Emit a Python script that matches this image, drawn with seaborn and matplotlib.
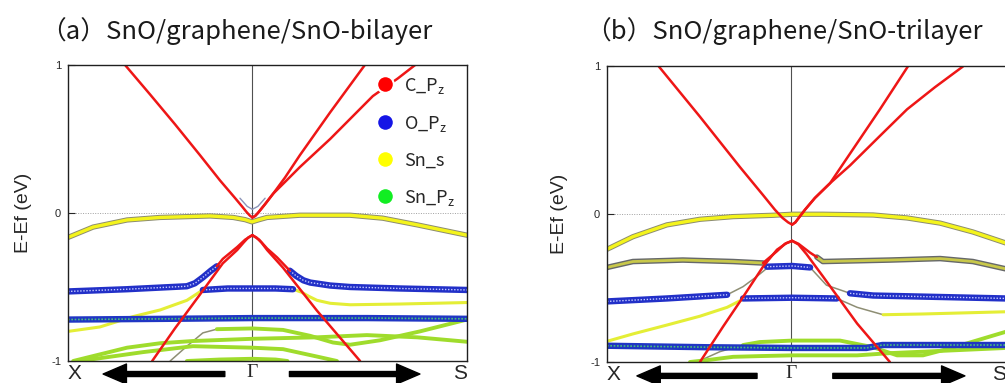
import matplotlib
matplotlib.use("Agg")
import matplotlib.pyplot as plt
from matplotlib.lines import Line2D
import pandas as pd
import seaborn as sns

# ---- k-path and axis labels ----
K_TICKS = [0.0, 0.462, 1.0]
K_LABELS = ["X", "Γ", "S"]
E_TICKS = [-1, 0, 1]
TITLE_A = "（a）SnO/graphene/SnO-bilayer"
TITLE_B = "（b）SnO/graphene/SnO-trilayer"
YLABEL = "E-Ef (eV)"

LEGEND_NAMES = ["C_P$_\\mathregular{z}$", "O_P$_\\mathregular{z}$", "Sn_s", "Sn_P$_\\mathregular{z}$"]
LEGEND_COLORS = ["#ff0000", "#1515e6", "#ffff00", "#11ee22"]

# ---- (a) bilayer bands: (k, E) ----
a_cone_up_left = ([.143, .206, .268, .331, .381, .419, .436, .448, .456, .462],
                  [1.0, .80, .60, .39, .22, .10, .045, .005, -.018, -.03])
a_cone_up_r1 = ([.462, .469, .476, .494, .514, .544, .581, .657, .744],
                 [-.03, -.02, .0, .06, .13, .24, .39, .68, 1.0])
a_cone_up_r2 = ([.462, .469, .476, .494, .514, .544, .581, .657, .764, .827, .870],
                 [-.03, -.02, .0, .06, .13, .21, .31, .50, .79, .91, 1.0])
a_cone_faint = ([.431, .449, .462, .476, .494], [.10, .045, .025, .045, .10])
a_cone_dn_left = ([.462, .452, .440, .424, .388, .331, .268, .211],
                  [-.15, -.165, -.20, -.25, -.34, -.55, -.78, -1.0])
a_cone_dn_right = ([.462, .472, .485, .499, .539, .624, .732],
                   [-.15, -.165, -.20, -.25, -.37, -.66, -1.0])
a_sn_top = ([0, .063, .148, .231, .356, .414, .444, .461, .479, .499, .581, .707, .789, .875, 1.0],
            [-.165, -.095, -.047, -.03, -.02, -.03, -.045, -.06, -.045, -.03, -.015, -.015, -.035, -.08, -.15])
a_o1_left = ([0, .148, .298, .318, .338, .358, .373], [-.53, -.515, -.495, -.475, -.435, -.39, -.36])
a_o1_left_c = ([.373, .388, .424, .444, .462], [-.36, -.31, -.23, -.18, -.15])
a_o1_right_c = ([.462, .479, .499, .524, .556], [-.15, -.18, -.24, -.30, -.39])
a_o1_right = ([.556, .572, .590, .607, .657, .707, .832, 1.0],
              [-.39, -.425, -.455, -.47, -.49, -.50, -.51, -.52])
a_s1_left = ([0, .080, .163, .231, .298, .338], [-.80, -.77, -.70, -.655, -.59, -.52])
a_o2 = ([.338, .40, .462, .52, .564], [-.52, -.51, -.51, -.51, -.515])
a_s1_right = ([.564, .585, .605, .624, .657, .707, .832, 1.0],
              [-.515, -.535, -.565, -.59, -.61, -.62, -.615, -.605])
a_o3 = ([0, .25, .462, .75, 1.0], [-.72, -.715, -.71, -.71, -.715])
a_p1_tail = ([.256, .298, .338, .373], [-1.0, -.90, -.81, -.785])
a_p1 = ([.373, .462, .539, .607, .664, .707, .782, .882, 1.0],
        [-.785, -.78, -.79, -.83, -.875, -.89, -.86, -.80, -.72])
a_p2 = ([.013, .148, .231, .313, .462, .624, .749, .875, 1.0],
        [-1.0, -.91, -.88, -.865, -.85, -.84, -.825, -.84, -.87])
a_p3 = ([.030, .188, .313, .462, .539, .624, .674], [-1.0, -.94, -.90, -.91, -.92, -.97, -1.0])
a_p4 = ([.298, .38, .462, .52, .55], [-1.0, -.99, -.985, -.99, -1.0])

# ---- (b) trilayer bands: (k, E) ----
b_cone_up_left = ([.130, .233, .333, .391, .421, .440, .454, .464],
                  [1.0, .66, .32, .13, .03, -.025, -.055, -.07])
b_cone_up_r1 = ([.464, .472, .479, .496, .521, .559, .609, .684, .754],
                [-.07, -.055, -.03, .03, .11, .21, .41, .71, 1.0])
b_cone_up_r2 = ([.464, .472, .479, .496, .521, .559, .609, .684, .752, .822, .892],
                [-.07, -.055, -.03, .03, .11, .21, .33, .53, .71, .86, 1.0])
b_cone_dn_left = ([.464, .450, .426, .391, .341, .291, .233], [-.18, -.195, -.24, -.355, -.56, -.76, -1.0])
b_cone_dn_right = ([.464, .48, .50, .541, .627, .709], [-.18, -.205, -.27, -.42, -.74, -1.0])
b_sn_top = ([0, .065, .150, .233, .316, .416, .464, .541, .667, .752, .835, .917, 1.0],
            [-.237, -.152, -.072, -.034, -.016, -.007, 0, 0, -.005, -.025, -.06, -.12, -.195])
b_m1_left = ([0, .065, .190, .316, .391], [-.36, -.32, -.31, -.32, -.33])
b_m1_left_c = ([.391, .426, .446, .464], [-.33, -.25, -.20, -.18])
b_m1_right_c = ([.464, .48, .509, .526], [-.18, -.20, -.26, -.29])
b_m1_right = ([.526, .541, .709, .835, .917, 1.0], [-.29, -.32, -.31, -.30, -.32, -.37])
b_o1_left = ([0, .150, .301], [-.59, -.57, -.545])
b_o1_left_mix = ([.301, .341, .376, .401], [-.545, -.49, -.42, -.365])
b_o1 = ([.401, .464, .509], [-.355, -.35, -.36])
b_o1_right_mix = ([.509, .55, .609], [-.36, -.48, -.535])
b_o1_right = ([.609, .667, .835, 1.0], [-.535, -.55, -.56, -.57])
b_s1_left = ([0, .065, .150, .233, .301, .341], [-.86, -.81, -.75, -.69, -.63, -.575])
b_o2 = ([.341, .464, .576], [-.57, -.565, -.57])
b_s1_right_mix = ([.576, .627, .692], [-.57, -.63, -.68])
b_s1_right = ([.692, .792, 1.0], [-.68, -.675, -.66])
b_o3 = ([0, .25, .464, .65, .69, .75, 1.0], [-.89, -.90, -.905, -.905, -.885, -.885, -.885])
b_p1_tail = ([.226, .246, .283, .341], [-1.0, -.975, -.93, -.885])
b_p1 = ([.341, .383, .464, .584, .667, .727, .792, .87, 1.0],
        [-.885, -.865, -.855, -.855, -.90, -.955, -.955, -.90, -.795])
b_p2 = ([.208, .258, .316, .383, .464, .627, .709, .835, 1.0],
        [-1.0, -.985, -.965, -.96, -.955, -.955, -.94, -.925, -.905])

PANEL_A = [
    ("trans", a_p1_tail), ("snp", a_p1), ("snp", a_p2), ("snp", a_p3), ("snp", a_p4),
    ("sns", a_s1_left), ("sns", a_s1_right), ("sntop", a_sn_top),
    ("teal", a_o3), ("o", a_o1_left), ("o", a_o1_right), ("o", a_o2),
    ("faint", a_cone_faint),
    ("c", a_o1_left_c), ("c", a_o1_right_c), ("c", a_cone_up_left), ("c", a_cone_up_r1),
    ("c", a_cone_up_r2), ("c", a_cone_dn_left), ("c", a_cone_dn_right),
]
PANEL_B = [
    ("trans", b_p1_tail), ("snp", b_p1), ("snp", b_p2),
    ("sns", b_s1_left), ("sns", b_s1_right), ("trans", b_s1_right_mix), ("trans", b_o1_left_mix),
    ("trans", b_o1_right_mix), ("sntop", b_sn_top), ("mix", b_m1_left), ("mix", b_m1_right),
    ("teal", b_o3), ("o", b_o1_left), ("o", b_o1), ("o", b_o1_right), ("o", b_o2),
    ("c", b_m1_left_c), ("c", b_m1_right_c), ("c", b_cone_up_left), ("c", b_cone_up_r1),
    ("c", b_cone_up_r2), ("c", b_cone_dn_left), ("c", b_cone_dn_right),
]

# layered line styles: list of (color, width, linestyle) drawn bottom to top
STYLES = {
    "trans": [("#8e8e74", 1.1, "-")],
    "snp": [("#9fdc2c", 2.8, "-")],
    "sns": [("#e4ee36", 2.2, "-")],
    "sntop": [("#8c8c70", 3.8, "-"), ("#f4f41c", 2.4, "-")],
    "mix": [("#66686a", 4.0, "-"), ("#c8c84a", 2.0, "-")],
    "teal": [("#2036c4", 4.6, "-"), ("#49c07a", 1.2, (0, (1.0, 1.0)))],
    "o": [("#2230c8", 4.6, "-"), ("#c4cbff", 1.0, (0, (1.0, 1.2)))],
    "faint": [("#8c94b8", 1.0, "-")],
    "c": [("#ee1616", 1.8, "-")],
}
ORDER = ["trans", "snp", "sns", "sntop", "mix", "teal", "o", "faint", "c"]


def to_frame(bands):
    rows = []
    for i, (style, (ks, es)) in enumerate(bands):
        for j, (k, e) in enumerate(zip(ks, es)):
            rows.append({"seg": i, "style": style, "k": k, "E": e, "n": j})
    return pd.DataFrame(rows)


sns.set_style("ticks")
plt.rcParams["font.family"] = ["Liberation Sans", "DejaVu Sans"]
plt.rcParams["mathtext.default"] = "regular"

fig = plt.figure(figsize=(10.05, 3.83), dpi=100)
W, H = 1005.0, 383.0


def draw_panel(rect, bands, title, title_x, ylabel_x, arrows, show_legend):
    ax = fig.add_axes(rect)
    df = to_frame(bands)
    for style in ORDER:
        sub = df[df["style"] == style]
        if sub.empty:
            continue
        for color, lw, ls in STYLES[style]:
            sns.lineplot(data=sub, x="k", y="E", units="seg", estimator=None, sort=False,
                         color=color, linewidth=lw, linestyle=ls, ax=ax, legend=False,
                         solid_capstyle="round", solid_joinstyle="round")
    ax.axhline(0, color="#a0a0a0", lw=0.7, ls=(0, (1, 1.5)), zorder=0.5)
    ax.axvline(K_TICKS[1], color="#505050", lw=0.8, zorder=0.6)
    ax.set_xlim(0, 1)
    ax.set_ylim(-1, 1)
    ax.set_xlabel("")
    ax.set_ylabel(YLABEL, fontsize=14, family=["Liberation Sans"])
    ax.yaxis.set_label_coords(ylabel_x, 0.5)
    ax.set_yticks(E_TICKS)
    ax.set_yticklabels([str(t) for t in E_TICKS], fontsize=8)
    ax.tick_params(axis="y", direction="in", length=5, width=0.8, pad=5)
    ax.set_xticks(K_TICKS)
    ax.set_xticklabels(K_LABELS)
    ax.tick_params(axis="x", length=0, pad=2)
    for lab, txt in zip(ax.get_xticklabels(), K_LABELS):
        if txt == "Γ":
            lab.set_family(["Liberation Serif"])
            lab.set_fontsize(14)
        else:
            lab.set_fontsize(15)
            lab.set_horizontalalignment("left" if txt == "X" else "right")
    for sp in ax.spines.values():
        sp.set_color("#202020")
        sp.set_linewidth(1.0)
    fig.text(title_x, 1 - 31 / H, title, family=["Noto Sans CJK SC"], fontsize=18.5,
             va="center", ha="left", color="#1a1a1a")
    for tail, tip, y in arrows:
        ax.annotate("", xy=(tip, y), xytext=(tail, y), xycoords="axes fraction",
                    textcoords="axes fraction", annotation_clip=False,
                    arrowprops=dict(arrowstyle="simple,head_length=1.4,head_width=1.2,tail_width=0.3",
                                    color="black", shrinkA=0, shrinkB=0, mutation_scale=12))
    if show_legend:
        handles = [Line2D([], [], ls="", marker="o", ms=12, mfc=c, mec="white", mew=1.5)
                   for c in LEGEND_COLORS]
        ax.legend(handles, LEGEND_NAMES, loc="upper left", bbox_to_anchor=(0.735, 1.007),
                  frameon=False, labelspacing=1.0, handletextpad=0.45, borderpad=0.2,
                  handlelength=1.2, prop={"family": ["Noto Sans CJK SC"], "size": 13})
    return ax


draw_panel([68 / W, (H - 361) / H, 399 / W, 296 / H], PANEL_A, TITLE_A, 40 / W, -0.09,
           [(.393, .088, -.044), (.555, .882, -.044)], True)
draw_panel([607 / W, (H - 362) / H, 399 / W, 295.5 / H], PANEL_B, TITLE_B, 585 / W, -0.098,
           [(.376, .075, -.047), (.566, .897, -.047)], False)

fig.savefig("out.png", dpi=100)
